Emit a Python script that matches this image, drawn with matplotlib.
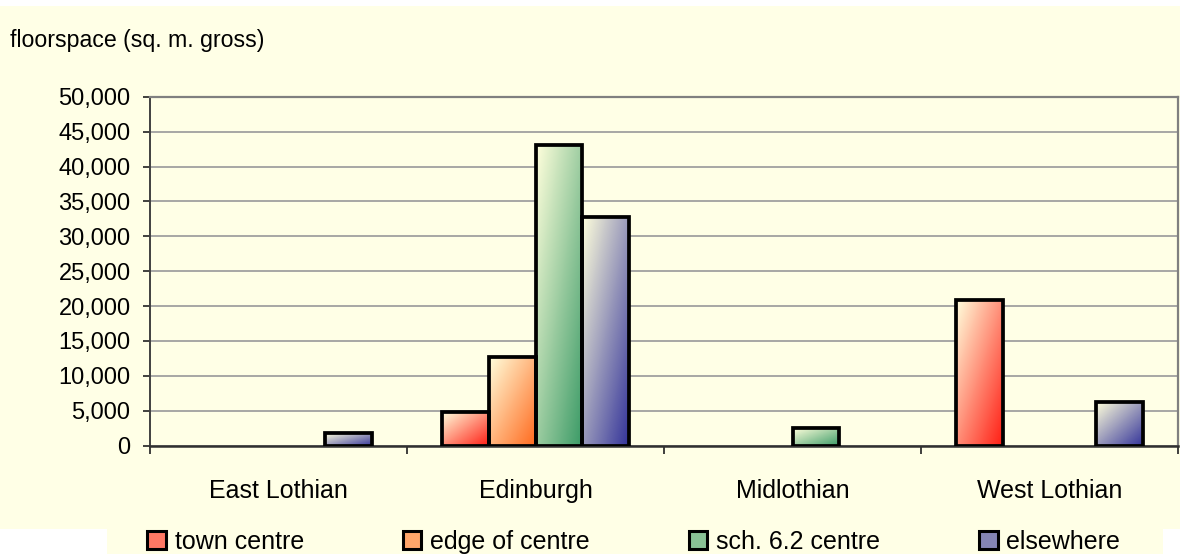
import numpy as np
import matplotlib
matplotlib.use("Agg")
import matplotlib.pyplot as plt
from matplotlib.colors import LinearSegmentedColormap
from matplotlib.patches import Patch, Rectangle
from matplotlib.ticker import FuncFormatter

plt.rcParams['font.family'] = ['Liberation Sans', 'DejaVu Sans']

areas = ["East Lothian", "Edinburgh", "Midlothian", "West Lothian"]
locations = ["town centre", "edge of centre", "sch. 6.2 centre", "elsewhere"]

town_centre = [0, 4800, 0, 20900]
edge_of_centre = [0, 12700, 0, 0]
sch_centre = [0, 43100, 2500, 0]
elsewhere = [1800, 32700, 0, 6200]

series = [town_centre, edge_of_centre, sch_centre, elsewhere]
end_colours = ["#ff1e14", "#ff6a1e", "#3a9a66", "#34349a"]
light = "#ffffdc"
bg = "#ffffe6"

fig = plt.figure(figsize=(11.8, 5.54), dpi=100)
fig.patch.set_facecolor("white")

# cream chart area plus the legend strip underneath
fig.add_artist(Rectangle((0, 1 - 529 / 554), 1, (529 - 6) / 554,
                         transform=fig.transFigure, facecolor=bg,
                         edgecolor="none", zorder=-1))
fig.add_artist(Rectangle((107 / 1180, 0), (1163 - 107) / 1180, 1 - 529 / 554,
                         transform=fig.transFigure, facecolor=bg,
                         edgecolor="none", zorder=-1))

ax = fig.add_axes([150 / 1180, 1 - 445.7 / 554, (1178 - 150) / 1180, (445.7 - 96.7) / 554])
ax.set_facecolor(bg)

x = np.arange(len(areas))
width = 1 / 5.5

# diagonal gradient: light top-left to full colour bottom-right
n = 64
u, v = np.meshgrid(np.linspace(0, 1, n), np.linspace(0, 1, n))
t = (u + v) / 2

for i, (vals, col) in enumerate(zip(series, end_colours)):
    pos = x + (i - 1.5) * width
    bars = ax.bar(pos, vals, width, facecolor="none",
                  edgecolor=["black" if val > 0 else "none" for val in vals],
                  linewidth=2.7, zorder=3)
    cmap = LinearSegmentedColormap.from_list("g%d" % i, [light, col])
    for b in bars:
        h = b.get_height()
        if h <= 0:
            continue
        x0 = b.get_x()
        im = ax.imshow(cmap(t), extent=[x0, x0 + b.get_width(), 0, h],
                       origin="upper", aspect="auto", zorder=2.5,
                       interpolation="bilinear")
        im.set_clip_path(b)

ax.set_xlim(-0.5, 3.5)
ax.set_ylim(0, 50000)
ax.set_yticks(np.arange(0, 50001, 5000))
ax.yaxis.set_major_formatter(FuncFormatter(lambda val, p: f"{int(val):,}"))
ax.yaxis.grid(True, color="#a0a0a0", linewidth=1.3, zorder=1)
ax.set_axisbelow(True)

ax.set_xticks(np.arange(-0.5, 4, 1))
ax.set_xticklabels([])
ax.set_xticks(x, minor=True)
ax.set_xticklabels(areas, minor=True)
ax.tick_params(axis="x", which="major", direction="out", length=6, width=1.3, color="#303030")
ax.tick_params(axis="x", which="minor", length=0, pad=24, labelsize=18)
ax.tick_params(axis="y", direction="out", length=5, width=1.3, color="#303030",
               pad=9, labelsize=17)

ax.spines["left"].set_color("#404040")
ax.spines["left"].set_linewidth(1.4)
ax.spines["bottom"].set_color("#303030")
ax.spines["bottom"].set_linewidth(1.8)
for s in ("top", "right"):
    ax.spines[s].set_color("#808080")
    ax.spines[s].set_linewidth(1.6)

fig.text(10 / 1180, 1 - 41 / 554, "floorspace (sq. m. gross)", fontsize=16.7,
         va="center", ha="left")

handles = [Patch(facecolor=LinearSegmentedColormap.from_list("h", [light, c])(0.6),
                 edgecolor="black", linewidth=2.2) for c in end_colours]
fig.legend(handles, locations, loc="center", bbox_to_anchor=(0.537, 1 - 542 / 554),
           ncol=4, frameon=False, fontsize=18, handlelength=0.75, handleheight=0.75,
           handletextpad=0.35, columnspacing=3.95)

fig.savefig("out.png", dpi=100, facecolor=fig.get_facecolor())
